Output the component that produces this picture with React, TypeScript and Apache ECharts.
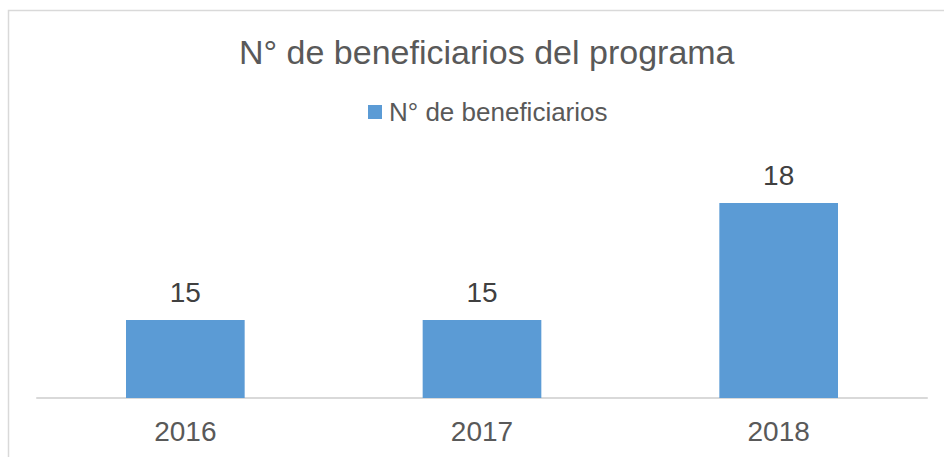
import React, { useEffect, useRef } from "react";
import * as echarts from "echarts";

const categories = ["2016", "2017", "2018"];
const beneficiarios = [15, 15, 18];
const seriesName = "N° de beneficiarios";
const chartTitle = "N° de beneficiarios del programa";

export default function App() {
  const ref = useRef<HTMLDivElement>(null);
  useEffect(() => {
    document.body.style.margin = "0";
    if (!ref.current) return;
    const chart = echarts.init(ref.current, null, { renderer: "svg" });
    const font = "'Liberation Sans', Arial, sans-serif";
    chart.setOption({
      animation: false,
      backgroundColor: "#ffffff",
      textStyle: { fontFamily: font },
      title: {
        text: chartTitle,
        left: 234,
        top: 30,
        textStyle: { fontFamily: font, fontSize: 34, fontWeight: "normal", color: "#595959" },
      },
      legend: {
        data: [seriesName],
        left: 363,
        top: 94,
        icon: "rect",
        itemWidth: 14,
        itemHeight: 14,
        itemGap: 10,
        textStyle: { fontFamily: font, fontSize: 26, color: "#595959", padding: [0, 0, 0, 2] },
      },
      graphic: [
        {
          type: "rect",
          shape: { x: 8.5, y: 10.5, width: 1000, height: 1000 },
          style: { fill: "none", stroke: "#d9d9d9", lineWidth: 1.5 },
          silent: true,
        },
      ],
      grid: { left: 37, right: 17, top: 164, bottom: 59, containLabel: false },
      xAxis: {
        type: "category",
        data: categories,
        axisLine: { lineStyle: { color: "#d9d9d9", width: 2 } },
        axisTick: { show: false },
        axisLabel: { fontFamily: font, fontSize: 28, color: "#595959", margin: 19 },
      },
      yAxis: {
        type: "value",
        min: 13,
        max: 19,
        interval: 1,
        show: false,
        splitLine: { show: false },
      },
      series: [
        {
          name: seriesName,
          type: "bar",
          data: beneficiarios,
          barWidth: "40%",
          itemStyle: { color: "#5b9bd5" },
          label: {
            show: true,
            position: "top",
            distance: 14,
            fontFamily: font,
            fontSize: 28,
            color: "#404040",
          },
        },
      ],
    });
    return () => chart.dispose();
  }, []);
  return <div ref={ref} style={{ width: 944, height: 457 }} />;
}
